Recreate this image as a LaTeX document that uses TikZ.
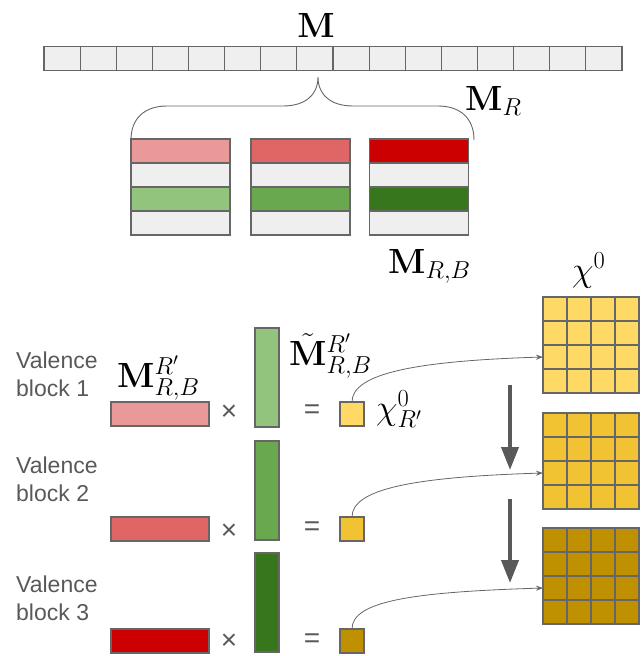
\RequirePackage{fix-cm}
\documentclass[tikz,border=0pt]{standalone}
\usepackage[no-math]{fontspec}
\newfontfamily\lab{Liberation Sans}
\usetikzlibrary{arrows.meta,calc}
\definecolor{lineg}{HTML}{666666}
\definecolor{txtg}{HTML}{595959}
\definecolor{cellg}{HTML}{EFEFEF}
\definecolor{rA}{HTML}{EA9999}
\definecolor{rB}{HTML}{E06666}
\definecolor{rC}{HTML}{CC0000}
\definecolor{gA}{HTML}{93C47D}
\definecolor{gB}{HTML}{6AA84F}
\definecolor{gC}{HTML}{38761D}
\definecolor{yA}{HTML}{FFD966}
\definecolor{yB}{HTML}{F1C232}
\definecolor{yC}{HTML}{BF9000}
\begin{document}
\begin{tikzpicture}[x=1pt,y=-1pt,
  box/.style={draw=lineg, line width=1.1pt, inner sep=0pt, outer sep=0pt},
  cell/.style={box, fill=cellg, minimum width=36.125pt, minimum height=24pt},
  rowbox/.style={box, minimum width=99pt, minimum height=24pt},
  hbar/.style={box, minimum width=98pt, minimum height=24pt},
  vbar/.style={box, minimum width=24pt, minimum height=99pt},
  sqbox/.style={box, minimum width=24pt, minimum height=24pt},
  gridbox/.style={box, minimum width=96pt, minimum height=96pt},
  gl/.style={draw=lineg, line width=1.1pt},
  lbl/.style={inner sep=0pt, font=\fontsize{35}{40}\selectfont},
  vtext/.style={font=\lab\fontsize{23}{28}\selectfont, text=txtg, align=left, anchor=west, inner sep=0pt},
  op/.style={font=\lab\fontsize{28}{30}\selectfont, text=txtg, inner sep=0pt},
  conn/.style={draw=lineg, line width=0.8pt, -{Stealth[length=7pt,width=5pt]}},
  bigarrow/.style={draw=txtg, line width=4pt, -{Triangle[length=23pt,width=17pt]}}
]
\useasboundingbox (0,0) rectangle (644,656);

% top bar
\foreach \i in {0,...,15}
  \node[cell] (c\i) at ({44+36.125*(\i+0.5)},58.7) {};
\node[lbl, anchor=base] (mlab) at (316,37.5) {$\mathbf{M}$};

% brace
\draw[gl, line width=0.9pt] (131,140) .. controls (131,118) and (145,106) .. (167,106) -- (283,106)
  .. controls (305,106) and (318,95) .. (318,77)
  .. controls (318,95) and (331,106) .. (353,106) -- (438,106)
  .. controls (460,106) and (474,118) .. (474,140);
\node[lbl, anchor=base west] (mr) at (465,110) {$\mathbf{M}_R$};

% stacks
\foreach \x/\n/\ca/\cb in {180.5/1/rA/gA, 300.5/2/rB/gB, 419/3/rC/gC}{
  \node[rowbox, fill=\ca] (s\n a) at (\x,151) {};
  \node[rowbox, fill=cellg] (s\n b) at (\x,175) {};
  \node[rowbox, fill=\cb] (s\n c) at (\x,199) {};
  \node[rowbox, fill=cellg] (s\n d) at (\x,223) {};
}
\node[lbl, anchor=base west] (mrb) at (388,273) {$\mathbf{M}_{R,B}$};

% grids
\node[gridbox, fill=yA] (GA) at (591,345) {};
\node[gridbox, fill=yB] (GB) at (591,461) {};
\node[gridbox, fill=yC] (GC) at (591,576) {};
\foreach \g in {GA,GB,GC}
  \foreach \k in {1,2,3}{
    \draw[gl] ($(\g.north west)+(24*\k,0)$) -- ($(\g.south west)+(24*\k,0)$);
    \draw[gl] ($(\g.north west)+(0,24*\k)$) -- ($(\g.north east)+(0,24*\k)$);
  }
\node[lbl, anchor=base west] (chi) at (572,281) {$\chi^0$};

% valence blocks
\node[vtext] (v1) at (16,374) {Valence\\block 1};
\node[vtext] (v2) at (16,479) {Valence\\block 2};
\node[vtext] (v3) at (16,598.5) {Valence\\block 3};

\node[hbar, fill=rA] (h1) at (160,414) {};
\node[hbar, fill=rB] (h2) at (160,529) {};
\node[hbar, fill=rC] (h3) at (160,641) {};
\node[vbar, fill=gA] (w1) at (267,377.5) {};
\node[vbar, fill=gB] (w2) at (267,490.5) {};
\node[vbar, fill=gC] (w3) at (267,602.5) {};
\node[sqbox, fill=yA] (q1) at (352,414) {};
\node[sqbox, fill=yB] (q2) at (352,529) {};
\node[sqbox, fill=yC] (q3) at (352,641) {};

\node[op] (x1) at (229,413) {×};
\node[op] (x2) at (229,532) {×};
\node[op] (x3) at (229,642) {×};
\node[op] (e1) at (312,412) {=};
\node[op] (e2) at (312,529) {=};
\node[op] (e3) at (312,641) {=};

\node[lbl, anchor=base west] (mrbr) at (117,387) {$\mathbf{M}^{R'}_{R,B}$};
\node[lbl, anchor=base west] (mt) at (289,365) {$\tilde{\mathbf{M}}^{R'}_{R,B}$};
\node[lbl, anchor=base west] (chir) at (376,419) {$\chi^0_{R'}$};

% connectors
\draw[conn] (q1.north) .. controls +(0,-28) and +(-130,4) .. ($(GA.west)+(0,12)$);
\draw[conn] (q2.north) .. controls +(0,-28) and +(-130,4) .. ($(GB.west)+(0,12)$);
\draw[conn] (q3.north) .. controls +(0,-28) and +(-130,4) .. ($(GC.west)+(0,12)$);

\coordinate (a1s) at (510,385);
\coordinate (a1e) at (510,470);
\coordinate (a2s) at (510,499);
\coordinate (a2e) at (510,583);
\draw[bigarrow] (a1s) -- (a1e);
\draw[bigarrow] (a2s) -- (a2e);
\end{tikzpicture}
\end{document}
